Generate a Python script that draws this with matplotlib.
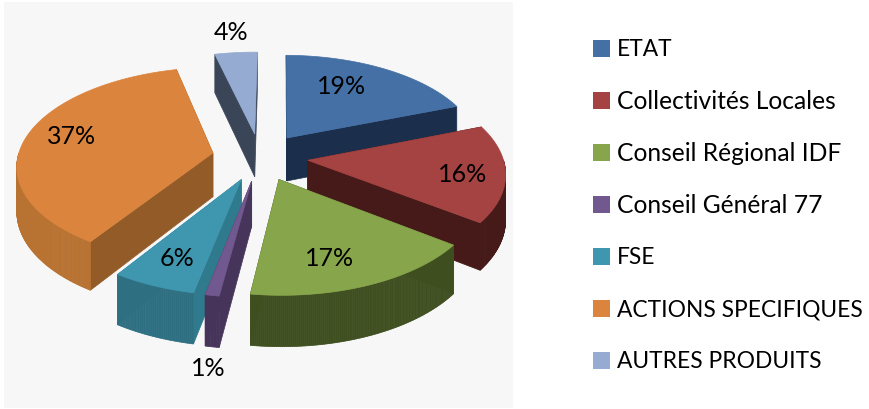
import numpy as np
import matplotlib
matplotlib.use("Agg")
import matplotlib.pyplot as plt
from matplotlib.patches import Polygon, Rectangle

labels = ["ETAT", "Collectivités Locales", "Conseil Régional IDF", "Conseil Général 77",
          "FSE", "ACTIONS SPECIFIQUES", "AUTRES PRODUITS"]
values = [19, 16, 17, 1, 6, 37, 4]
top_colors = ["#4470A5", "#A54342", "#87A54A", "#71588F", "#3F96AF", "#DB843D", "#95ABD1"]
face_colors = ["#1B2E4B", "#451A18", "#384A1C", "#46345A", "#2F7A8C", "#925B27", "#3A4558"]
wall_colors = ["#1B2E4B", "#451A18", "#3F4F20", "#46345A", "#2E7082", "#B87231", "#3A4558"]

# pie geometry, in pixels of the figure
CX, CY = 260, 157
RADIUS = 195
EXPLODE = 48
HEIGHT = 44
TILT = 0.495
PERSP = 0.0006
START_ANGLE = 0.7


def project(x, y, z=0.0):
    """Plane coordinates (y pointing away from the viewer) to screen pixels."""
    s = 1 / (1 + PERSP * y)
    return CX + x * s, CY - TILT * y * s + z * s


def wedge_outline(a0, a1):
    mid = np.radians((a0 + a1) / 2)
    ox, oy = EXPLODE * np.sin(mid), EXPLODE * np.cos(mid)
    angles = np.radians(np.linspace(a0, a1, max(int(a1 - a0) * 2, 4)))
    return ox, oy, ox + RADIUS * np.sin(angles), oy + RADIUS * np.cos(angles)


def draw_wedge(ax, a0, a1, top, face, wall, zorder):
    ox, oy, xs, ys = wedge_outline(a0, a1)

    # both cut faces, then the curved wall, then the lid
    for x, y in [(xs[0], ys[0]), (xs[-1], ys[-1])]:
        quad = [project(ox, oy), project(x, y), project(x, y, HEIGHT), project(ox, oy, HEIGHT)]
        ax.add_patch(Polygon(quad, closed=True, fc=face, ec=face, lw=0.5, zorder=zorder))

    for i in range(len(xs) - 1):
        if ys[i] + ys[i + 1] - 2 * oy > 0:
            continue
        quad = [project(xs[i], ys[i]), project(xs[i + 1], ys[i + 1]),
                project(xs[i + 1], ys[i + 1], HEIGHT), project(xs[i], ys[i], HEIGHT)]
        ax.add_patch(Polygon(quad, closed=True, fc=wall, ec=wall, lw=0.5, zorder=zorder))

    lid = [project(ox, oy)] + [project(x, y) for x, y in zip(xs, ys)]
    ax.add_patch(Polygon(lid, closed=True, fc=top, ec=top, lw=0.5, zorder=zorder + 0.5))


plt.rcParams["font.family"] = ["Lato", "DejaVu Sans"]
fig = plt.figure(figsize=(8.69, 4.09), dpi=100)
ax = fig.add_axes([0, 0, 1, 1])
ax.set_xlim(0, 869)
ax.set_ylim(409, 0)
ax.axis("off")

ax.add_patch(Rectangle((4, 2), 509, 406, fc="#F7F7F7", ec="none", zorder=0))

edges = START_ANGLE + np.concatenate([[0], np.cumsum(values)]) / sum(values) * 360
mids = (edges[:-1] + edges[1:]) / 2
# painter's order: the wedges furthest from the viewer first
order = np.argsort(-np.cos(np.radians(mids)))
for rank, i in enumerate(order):
    draw_wedge(ax, edges[i], edges[i + 1], top_colors[i], face_colors[i], wall_colors[i], 1 + rank)

label_xy = [(342, 87), (463, 174), (330, 259), (208, 369), (177, 259), (72, 137), (231, 32)]
for v, (x, y) in zip(values, label_xy):
    ax.text(x, y, f"{v}%", ha="center", va="center", fontsize=18, color="black", zorder=20)

# legend column on the right; capitals run a little smaller
for i, name in enumerate(labels):
    y = 48 + 52.1 * i
    ax.add_patch(Rectangle((593, y - 8.5), 17, 17, fc=top_colors[i], ec="none", zorder=20))
    size = 16.4 if name.isupper() else 17.7
    ax.text(617, y + 1, name, ha="left", va="center", fontsize=size, color="black", zorder=20)

fig.savefig("out.png", dpi=100)
